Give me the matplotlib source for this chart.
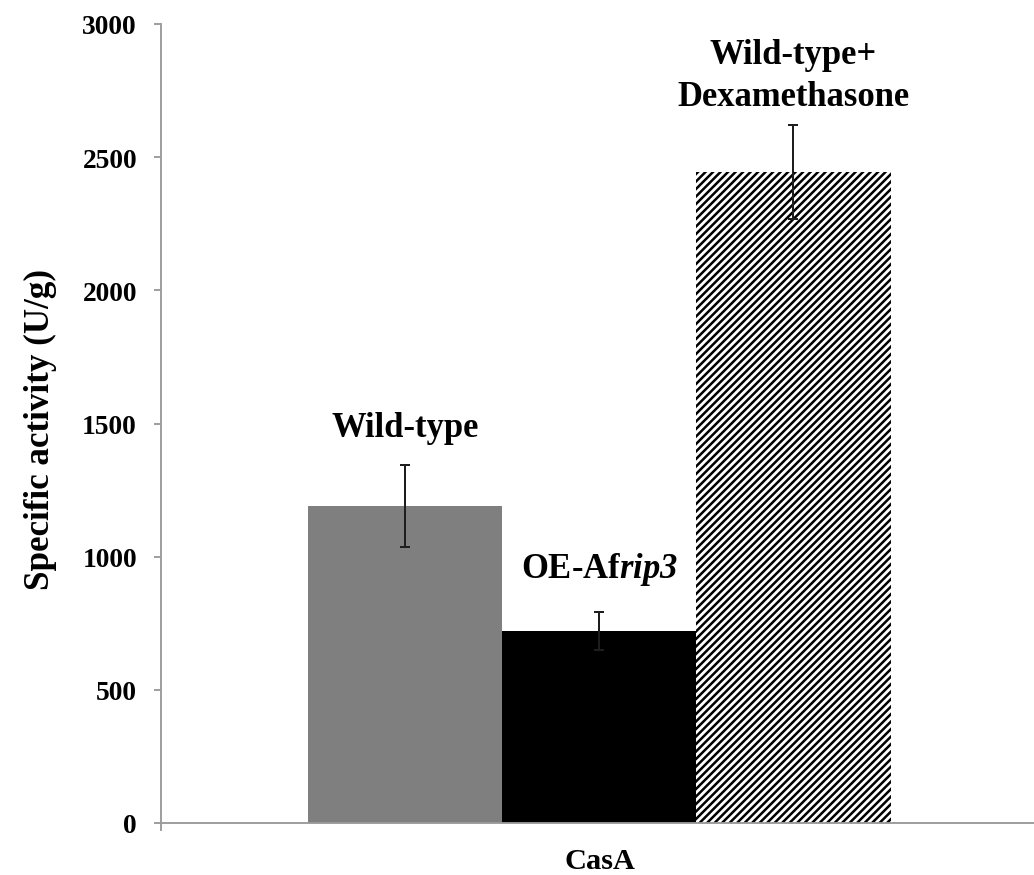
import matplotlib
matplotlib.use("Agg")
import matplotlib.pyplot as plt

# --- data -------------------------------------------------------------
category = "CasA"
groups = ["Wild-type", "OE-Af$\\mathbf{rip3}$", "Wild-type+\nDexamethasone"]
activity = [1190, 721, 2444]          # specific activity (U/g)
activity_err = [155, 70, 175]         # error bar half-lengths
y_ticks = [0, 500, 1000, 1500, 2000, 2500, 3000]

# --- styling ----------------------------------------------------------
face_colors = ["#7f7f7f", "#000000", "#ffffff"]
hatches = [None, None, "////"]
label_gap = [108, 131, 78]            # space between error cap and label baseline

plt.rcParams["font.family"] = ["Liberation Serif", "DejaVu Serif"]
plt.rcParams["font.weight"] = "bold"
plt.rcParams["mathtext.fontset"] = "custom"
plt.rcParams["mathtext.rm"] = "Liberation Serif:bold"
# bold-italic face used for the gene name
plt.rcParams["mathtext.bf"] = "Liberation Serif:italic:bold"
plt.rcParams["mathtext.it"] = "Liberation Serif:italic:bold"
plt.rcParams["hatch.linewidth"] = 2.0

W, H, DPI = 1034, 876, 90
fig = plt.figure(figsize=(W / DPI, H / DPI), dpi=DPI)
ax = fig.add_axes([161 / W, 52 / H, (W - 161) / W, (824 - 25) / H])

bar_w = 0.2225
center = 0.002
xs = [center + (i - 1) * bar_w for i in range(len(activity))]

for x, v, fc, h in zip(xs, activity, face_colors, hatches):
    ax.bar(x, v, width=bar_w, color=fc, edgecolor="black" if h else fc,
           linewidth=0, hatch=h, zorder=2)

ax.errorbar(xs, activity, yerr=activity_err, fmt="none", ecolor="#1e1e1e",
            elinewidth=1.6, capsize=3.8, capthick=1.6, zorder=3)

for x, v, e, g, lab in zip(xs, activity, activity_err, label_gap, groups):
    lines = lab.split("\n")
    base = v + e + g
    # stack multi-line labels upward from the lowest line
    for k, line in enumerate(reversed(lines)):
        ax.text(x, base + k * 158, line, ha="center", va="baseline",
                fontsize=27.7, fontweight="bold", zorder=4)

ax.set_xlim(-0.5, 0.5)
ax.set_ylim(0, 3000)
ax.set_yticks(y_ticks)
ax.set_yticklabels([str(t) for t in y_ticks])

spine_col = "#9a9a9a"
for side in ["top", "right"]:
    ax.spines[side].set_visible(False)
for side in ["left", "bottom"]:
    ax.spines[side].set_color(spine_col)
    ax.spines[side].set_linewidth(1.5)

ax.tick_params(axis="y", direction="out", length=5.6, width=1.5,
               color=spine_col, labelsize=22, pad=13.6)
ax.set_xticks([])
ax.set_xticks([-0.5], minor=True)
ax.tick_params(axis="x", which="minor", direction="out", length=6.4,
               width=1.5, color=spine_col)

fig.text(600 / W, 1 - 869 / H, category, ha="center", va="baseline",
         fontsize=24.3, fontweight="bold")
fig.text(40 / W, 1 - 430 / H, "Specific activity (U/g)", ha="center",
         va="center", rotation=90, fontsize=28, fontweight="bold")

fig.savefig("out.png", dpi=DPI)
